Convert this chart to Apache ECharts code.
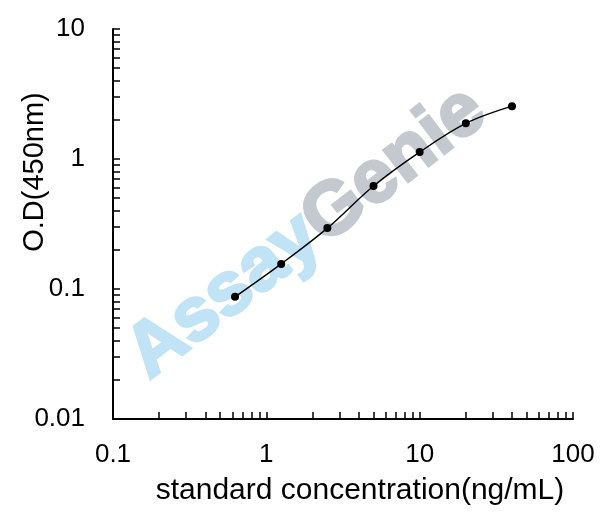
<!DOCTYPE html>
<html>
<head>
<meta charset="utf-8">
<script src="https://cdn.jsdelivr.net/npm/echarts@6/dist/echarts.min.js"></script>
<style>
html, body { margin: 0; padding: 0; background: #fff; }
#chart { width: 608px; height: 517px; }
</style>
</head>
<body>
<div id="chart"></div>
<script>
// 标准曲线数据 (浓度 ng/mL, OD450)
var concentration = [0.625, 1.25, 2.5, 5, 10, 20, 40]
var od450 = [0.087, 0.156, 0.294, 0.62, 1.13, 1.88, 2.55]

// 对数轴刻度：每个数量级 1..9
var tickSteps = [1, 2, 3, 4, 5, 6, 7, 8, 9]
var xDecades = [0.1, 1, 10]
var yDecades = [0.01, 0.1, 1]

function buildTicks(decades, last) {
    var out = []
    for (var i = 0; i < decades.length; i++) {
        for (var j = 0; j < tickSteps.length; j++) {
            out.push(+(decades[i] * tickSteps[j]).toPrecision(3))
        }
    }
    out.push(last)
    return out
}
var xTicks = buildTicks(xDecades, 100)
var yTicks = buildTicks(yDecades, 10)

var points = []
for (var i = 0; i < concentration.length; i++) {
    points.push([concentration[i], od450[i]])
}

var font = 'Liberation Sans, Arial, sans-serif'
var myChart = echarts.init(document.getElementById('chart'))

var option = {
    animation: false,
    backgroundColor: '#fff',
    grid: {
        left: 113,
        right: 35,
        top: 29,
        bottom: 98,
        containLabel: false,
        outerBoundsMode: 'none'
    },
    // 水印
    graphic: [{
        type: 'text',
        x: 307,
        y: 233,
        rotation: 37.5 * Math.PI / 180,
        z: -10,
        silent: true,
        style: {
            text: '{a|Assay}{g|Genie}',
            align: 'center',
            verticalAlign: 'middle',
            rich: {
                a: { fill: '#c0e3f5', stroke: '#c0e3f5', lineWidth: 3, font: 'bold 75px ' + font },
                g: { fill: '#c4c9d0', stroke: '#c4c9d0', lineWidth: 3, font: 'bold 75px ' + font }
            }
        }
    }],
    xAxis: {
        type: 'log',
        logBase: 10,
        min: 0.1,
        max: 100,
        name: 'standard concentration(ng/mL)',
        nameLocation: 'middle',
        nameGap: 57,
        nameMoveOverlap: false,
        nameTextStyle: {
            color: '#000',
            fontSize: 30,
            fontFamily: font,
            padding: [0, 0, 0, 34]
        },
        axisLine: { lineStyle: { color: '#000', width: 2 } },
        axisTick: {
            show: true,
            inside: true,
            length: 7,
            customValues: xTicks,
            lineStyle: { color: '#000', width: 1.5 }
        },
        axisLabel: {
            color: '#000',
            fontSize: 26,
            fontFamily: font,
            margin: 23
        },
        splitLine: { show: false }
    },
    yAxis: {
        type: 'log',
        logBase: 10,
        min: 0.01,
        max: 10,
        name: 'O.D(450nm)',
        nameLocation: 'middle',
        nameGap: 64,
        nameMoveOverlap: false,
        nameTextStyle: {
            color: '#000',
            fontSize: 29,
            fontFamily: font,
            padding: [0, 0, 0, 104]
        },
        axisLine: { lineStyle: { color: '#000', width: 2 } },
        axisTick: {
            show: true,
            inside: true,
            length: 7,
            customValues: yTicks,
            lineStyle: { color: '#000', width: 1.5 }
        },
        axisLabel: {
            color: '#000',
            fontSize: 26,
            fontFamily: font,
            margin: 28
        },
        splitLine: { show: false }
    },
    series: [
        {
            name: 'curve',
            type: 'line',
            smooth: 0.35,
            data: points,
            showSymbol: true,
            symbol: 'circle',
            symbolSize: 8,
            itemStyle: { color: '#000' },
            lineStyle: { color: '#000', width: 1.4 },
            z: 3
        }
    ]
}

myChart.setOption(option)
</script>
</body>
</html>
